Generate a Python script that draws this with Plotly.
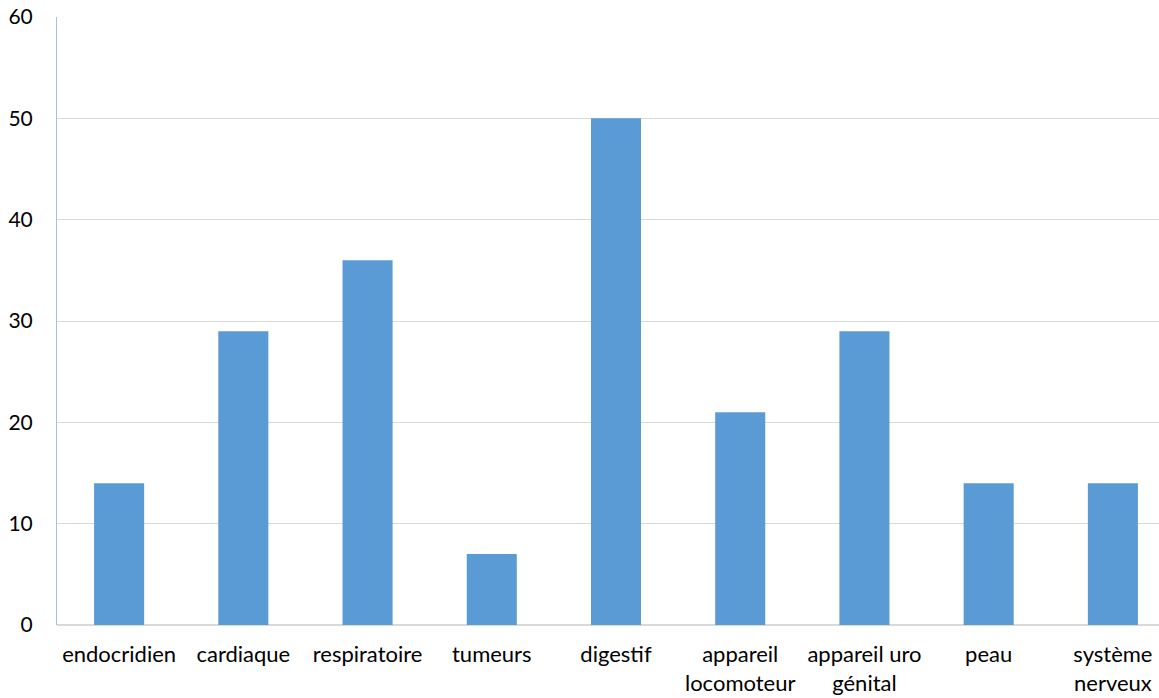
import plotly.graph_objects as go

categories = ["endocridien", "cardiaque", "respiratoire", "tumeurs", "digestif",
              "appareil<br>locomoteur", "appareil uro<br>génital", "peau", "système<br>nerveux"]
values = [14, 29, 36, 7, 50, 21, 29, 14, 14]
y_ticks = [0, 10, 20, 30, 40, 50, 60]

fig = go.Figure(go.Bar(x=categories, y=values, marker_color="#5B9BD5", marker_line_width=0))
fig.update_layout(
    width=1176, height=698,
    margin=dict(l=57, r=1, t=17, b=73, autoexpand=False),
    plot_bgcolor="white", paper_bgcolor="white",
    bargap=0.597, showlegend=False,
    font=dict(family="Lato, Open Sans, sans-serif", size=21, color="#000000"),
)
fig.update_xaxes(showgrid=False, showline=False, ticks="outside", ticklen=10, tickcolor="rgba(0,0,0,0)",
                 tickangle=0, tickfont=dict(family="Lato", size=22), automargin=False)
fig.update_yaxes(range=[0, 60], tickvals=y_ticks, showgrid=True, gridcolor="#D9D9D9", gridwidth=1,
                 showline=True, linecolor="#9DC3E6", linewidth=1, zeroline=True, zerolinecolor="#D9D9D9",
                 ticks="", ticklabelstandoff=19, automargin=False,
                 tickfont=dict(family="Lato", size=21))
fig.write_html("out.html", config={"displayModeBar": False},
               post_script="document.body.style.margin='0';document.body.style.overflow='hidden';")
